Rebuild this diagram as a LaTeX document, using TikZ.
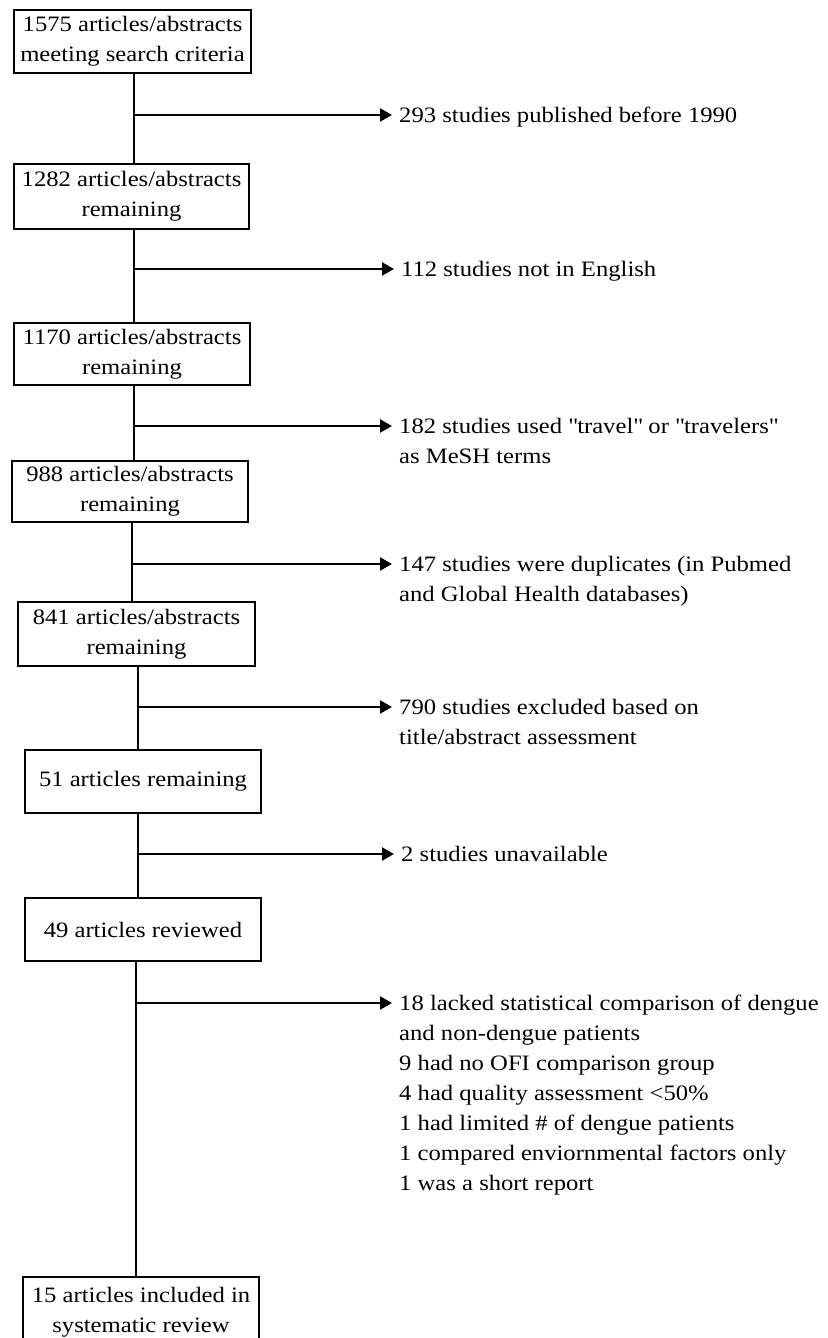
\documentclass[tikz,border=0pt]{standalone}
\usepackage{fontspec}
\setmainfont{Liberation Serif}[FakeStretch=1.12]
\usetikzlibrary{arrows.meta}
\newcommand\fstrut{\rule{0pt}{16pt}}
\begin{document}
\begin{tikzpicture}[x=1pt,y=-1pt,
  flowbox/.style={draw, line width=2.1pt, inner sep=0pt, align=center, font=\fontsize{22}{30}\selectfont},
  exclnote/.style={anchor=north west, inner sep=0pt, align=left, font=\fontsize{22}{30}\selectfont},
  conn/.style={line width=2.2pt},
  arr/.style={line width=2.2pt, -{Triangle[length=12pt,width=13pt]}, shorten >=7pt}]
\useasboundingbox (0,0) rectangle (827,1338);
\clip (0,0) rectangle (827,1338);

% main boxes
\node[flowbox, minimum width=237pt, minimum height=63pt] (b1) at (132.5,41.5) {1575 articles/abstracts\\meeting search criteria};
\node[flowbox, minimum width=235pt, minimum height=65pt] (b2) at (131.5,196.5) {1282 articles/abstracts\\remaining};
\node[flowbox, minimum width=236pt, minimum height=62pt] (b3) at (132,354) {1170 articles/abstracts\\remaining};
\node[flowbox, minimum width=236pt, minimum height=61pt] (b4) at (130,491.5) {988 articles/abstracts\\remaining};
\node[flowbox, minimum width=237pt, minimum height=64pt] (b5) at (136.5,634) {841 articles/abstracts\\remaining};
\node[flowbox, minimum width=236pt, minimum height=63pt] (b6) at (143,781.5) {51 articles remaining};
\node[flowbox, minimum width=236pt, minimum height=63pt] (b7) at (143,929.5) {49 articles reviewed};
\node[flowbox, minimum width=236pt, minimum height=70pt] (b8) at (141,1312) {15 articles included in\\systematic review};

% junctions
\coordinate (j1) at (134,115);
\coordinate (j2) at (134,269);
\coordinate (j3) at (134,426);
\coordinate (j4) at (132,564);
\coordinate (j5) at (138,707);
\coordinate (j6) at (138,854);
\coordinate (j7) at (136,1003);

% exclusion notes
\node[exclnote] (e1) at (399,106.5) {\fstrut 293 studies published before 1990};
\node[exclnote] (e2) at (401,260.5) {\fstrut 112 studies not in English};
\node[exclnote] (e3) at (399,417.5) {\fstrut 182 studies used \textquotedbl travel\textquotedbl{} or \textquotedbl travelers\textquotedbl\\as MeSH terms};
\node[exclnote] (e4) at (399,555.5) {\fstrut 147 studies were duplicates (in Pubmed\\and Global Health databases)};
\node[exclnote] (e5) at (399,698.5) {\fstrut 790 studies excluded based on\\title/abstract assessment};
\node[exclnote] (e6) at (401,845.5) {\fstrut 2 studies unavailable};
\node[exclnote] (e7) at (399,994.5) {\fstrut 18 lacked statistical comparison of dengue\\and non-dengue patients\\9 had no OFI comparison group\\4 had quality assessment <50\%\\1 had limited \# of dengue patients\\1 compared enviornmental factors only\\1 was a short report};

% vertical connectors
\draw[conn] (b1.south -| j1) -- (b2.north -| j1);
\draw[conn] (b2.south -| j2) -- (b3.north -| j2);
\draw[conn] (b3.south -| j3) -- (b4.north -| j3);
\draw[conn] (b4.south -| j4) -- (b5.north -| j4);
\draw[conn] (b5.south -| j5) -- (b6.north -| j5);
\draw[conn] (b6.south -| j6) -- (b7.north -| j6);
\draw[conn] (b7.south -| j7) -- (b8.north -| j7);

% exclusion arrows
\draw[arr] (j1) -- (e1.west |- j1);
\draw[arr] (j2) -- (e2.west |- j2);
\draw[arr] (j3) -- (e3.west |- j3);
\draw[arr] (j4) -- (e4.west |- j4);
\draw[arr] (j5) -- (e5.west |- j5);
\draw[arr] (j6) -- (e6.west |- j6);
\draw[arr] (j7) -- (e7.west |- j7);
\end{tikzpicture}
\end{document}
